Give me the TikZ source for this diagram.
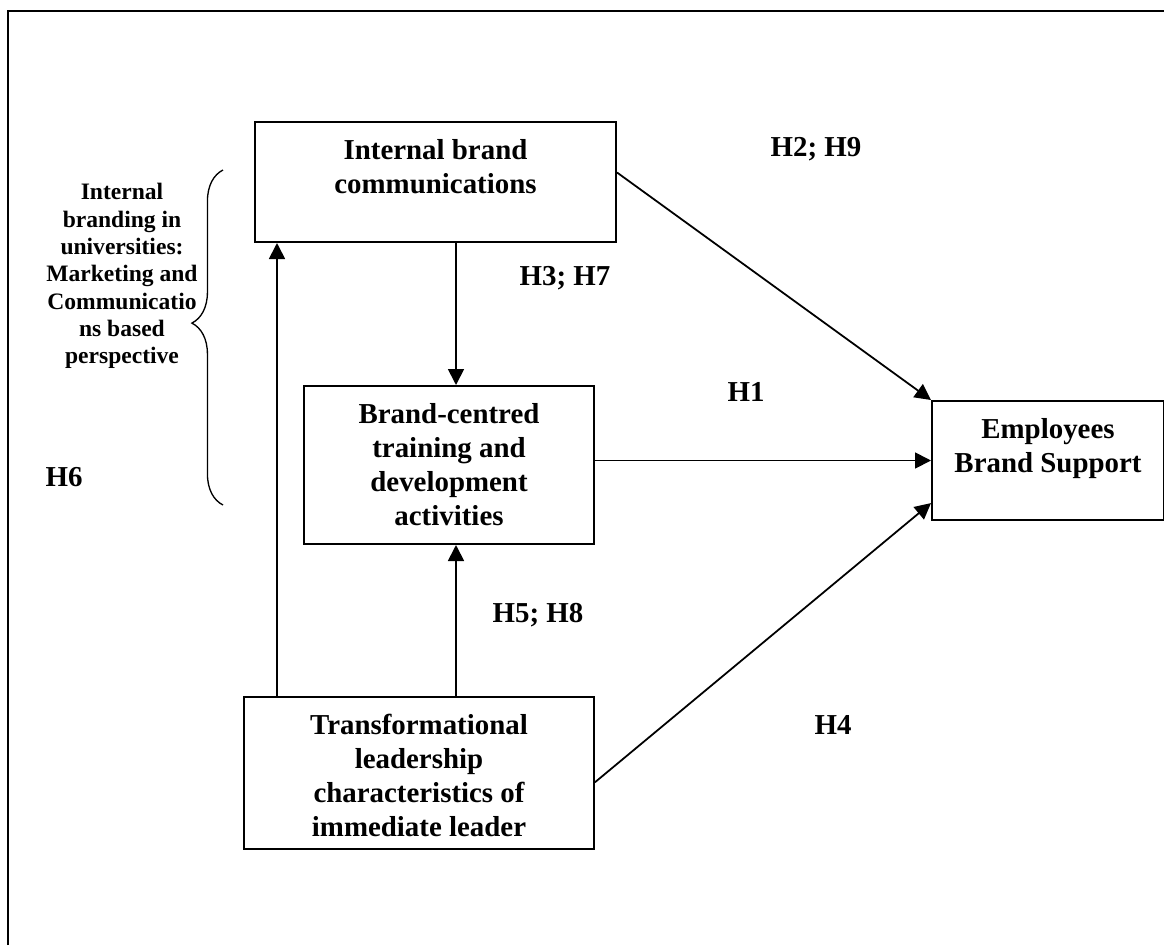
\documentclass[tikz,border=0pt]{standalone}
\usepackage{fontspec}
\setmainfont{Liberation Serif}
\usetikzlibrary{arrows.meta,decorations.pathreplacing}

% text of a box: height, width, lines (set from the top as in the source)
\newcommand{\boxtext}[3]{\parbox[c][#1][t]{#2}{\centering\fontsize{13}{15.3}\selectfont\bfseries\vspace*{7.85pt}#3}}

\begin{document}
\begin{tikzpicture}[x=0.45pt,y=-0.45pt,>={Triangle[length=7.2pt,width=7.2pt]},line width=0.8pt]
  \tikzstyle{box}=[draw,line width=0.9pt,inner sep=0pt,anchor=north west]
  \tikzstyle{hyp}=[inner sep=0pt,font=\fontsize{13}{15.3}\selectfont\bfseries]
  \tikzstyle{side}=[inner sep=0pt,align=center,
                    font=\fontsize{10.6}{12.3}\selectfont\bfseries]

  \useasboundingbox (0,0) rectangle (1164,945);
  \draw[line width=0.9pt] (8,945) -- (8,11) -- (1164,11);

  % constructs
  \node [box] (ibc) at (254,121) {\boxtext{54pt}{162.45pt}{Internal brand\\communications}};
  \node [box] (bct) at (303,385) {\boxtext{71.1pt}{130.5pt}{Brand-centred\\training and\\development\\activities}};
  \node [box] (tl)  at (243,696) {\boxtext{68.4pt}{157.5pt}{Transformational\\leadership\\characteristics of\\immediate leader}};
  \node [box] (emp) at (931,400) {\boxtext{53.55pt}{104.4pt}{Employees\\Brand Support}};

  % brace and its text
  \node [side] (persp) at (122,276) {Internal\\branding in\\universities:\\Marketing and\\Communicatio\\ns based\\perspective};
  \draw[line width=0.6pt,decorate,decoration={brace,amplitude=14pt,aspect=0.543}]
    (223,505) -- (223,170);

  % hypotheses
  \node [hyp] (h29) at (816,149) {H2; H9};
  \node [hyp] (h37) at (565,278) {H3; H7};
  \node [hyp] (h1)  at (746,392) {H1};
  \node [hyp] (h58) at (538,615) {H5; H8};
  \node [hyp] (h4)  at (833,725) {H4};
  \node [hyp] (h6)  at (64,477)  {H6};

  % paths
  \coordinate (bctn) at ([xshift=3.15pt]bct.north);
  \coordinate (bcts) at ([xshift=3.15pt]bct.south);
  \coordinate (lft)  at ([xshift=15.3pt]tl.north west);
  \draw[->] (ibc.south -| bctn) -- (bctn);
  \draw[->] (tl.north -| bcts) -- (bcts);
  \draw[->] (lft) -- (lft |- ibc.south);
  \draw[->] (ibc.3) -- (emp.north west);
  \draw[->] (emp.west -| bct.east) -- (emp.west);
  \draw[->] (tl.-3) -- (emp.200);
\end{tikzpicture}
\end{document}
